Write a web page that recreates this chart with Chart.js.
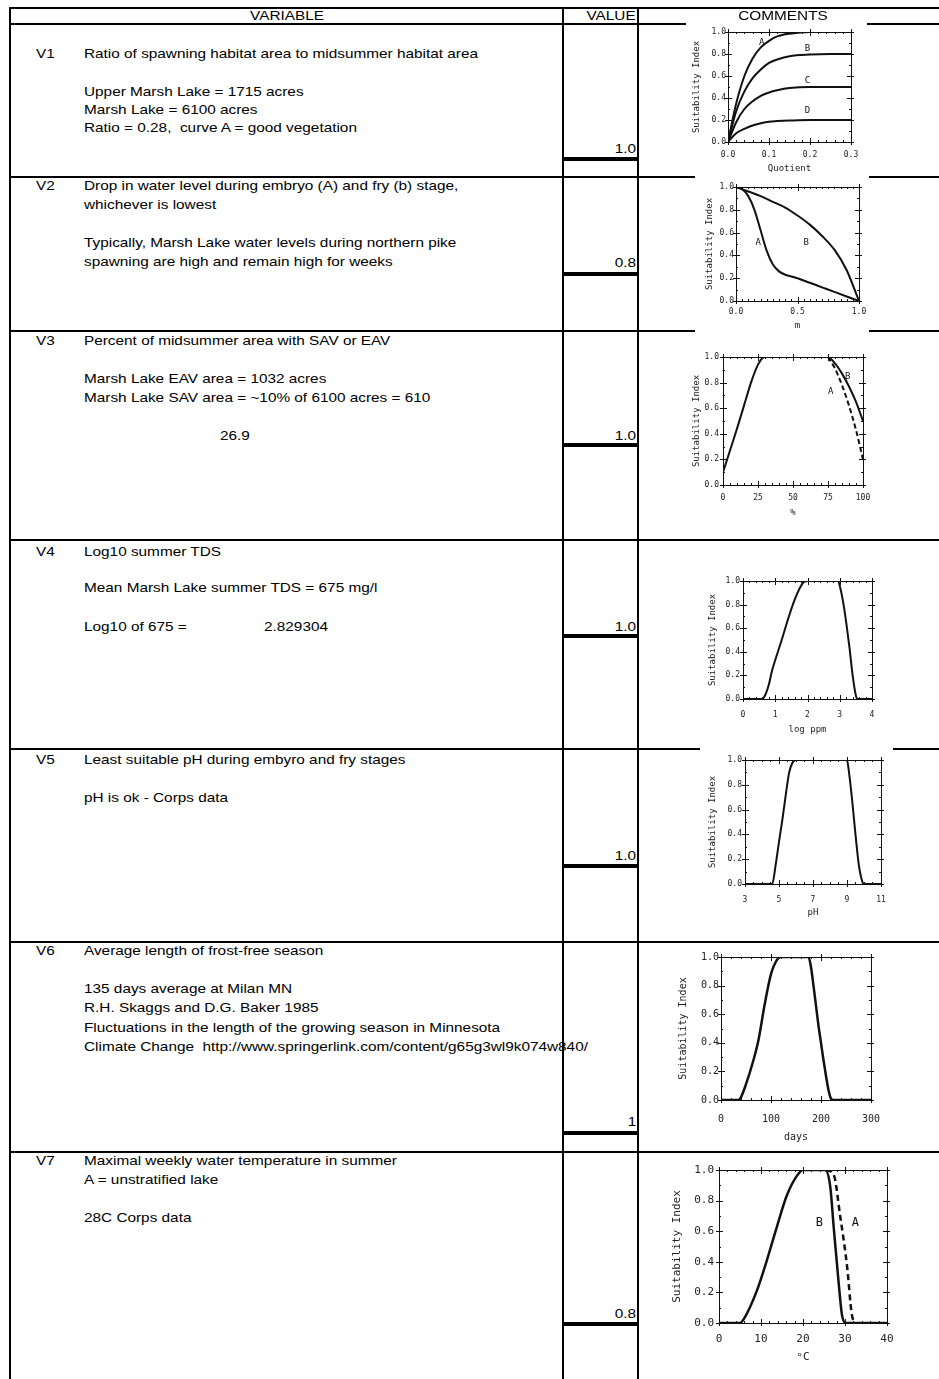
<!DOCTYPE html>
<html>
<head>
<meta charset="utf-8">
<script src="https://cdn.jsdelivr.net/npm/chart.js@4.4.0/dist/chart.umd.min.js"></script>
<style>
  body { margin: 0; background: #fff; }
  #page { position: relative; width: 939px; height: 1379px; overflow: hidden;
          font-family: "Liberation Sans", Arial, sans-serif; font-size: 13px; color: #000; }
  .hl { position: absolute; background: #000; z-index: 1; }
  .vl { position: absolute; background: #000; z-index: 1; }
  .img { position: absolute; background: #fff; z-index: 2; }
  .t { position: absolute; white-space: pre; line-height: 16px; z-index: 4;
       transform: scaleX(1.18); transform-origin: left center; }
  .t.r { transform-origin: right center; }
  .t.c { transform: translateX(-50%) scaleX(1.18); transform-origin: center center; }
  canvas { position: absolute; z-index: 3; }
</style>
</head>
<body>
<div id="page"></div>
<script>
// ---- curve data ----
// V1 ratio of spawning to midsummer habitat (quotient)
const v1X = [0, 0.02, 0.04, 0.06, 0.08, 0.10, 0.12, 0.15, 0.20, 0.25, 0.30];
const v1A = [0, 0.35, 0.60, 0.76, 0.86, 0.92, 0.96, 0.985, 1.0, 1.0, 1.0];
const v1B = [0, 0.28, 0.46, 0.58, 0.66, 0.72, 0.75, 0.78, 0.795, 0.8, 0.8];
const v1C = [0, 0.18, 0.30, 0.37, 0.42, 0.45, 0.47, 0.49, 0.50, 0.5, 0.5];
const v1D = [0, 0.08, 0.12, 0.15, 0.17, 0.185, 0.19, 0.195, 0.2, 0.2, 0.2];

// V2 drop in water level (m)
const v2AX = [0, 0.05, 0.1, 0.15, 0.2, 0.25, 0.3, 0.35, 0.4, 0.45, 0.5, 0.6, 0.7, 0.8, 0.9, 1.0];
const v2A = [1.0, 0.98, 0.92, 0.80, 0.62, 0.44, 0.32, 0.26, 0.23, 0.215, 0.2, 0.16, 0.12, 0.08, 0.04, 0];
const v2BX = [0, 0.1, 0.2, 0.3, 0.4, 0.5, 0.6, 0.7, 0.8, 0.9, 1.0];
const v2B = [1.0, 0.96, 0.92, 0.87, 0.82, 0.75, 0.67, 0.57, 0.45, 0.27, 0];

// V3 percent of midsummer area with vegetation
const v3BX = [0, 5, 10, 15, 20, 25, 28, 30, 50, 75, 80, 85, 90, 95, 100];
const v3B = [0.1, 0.27, 0.44, 0.62, 0.8, 0.94, 0.99, 1, 1, 1, 0.95, 0.87, 0.77, 0.65, 0.5];
const v3AX = [75, 80, 85, 90, 95, 100];
const v3A = [1.0, 0.91, 0.78, 0.62, 0.43, 0.2];

// V4 log10 summer TDS (log ppm)
const v4X = [0, 0.5, 0.6, 0.7, 0.8, 0.9, 1.0, 1.2, 1.4, 1.6, 1.8, 1.9, 2.0, 2.5, 2.95, 3.0, 3.1, 3.2, 3.3, 3.4, 3.5, 3.55, 4.0];
const v4Y = [0, 0, 0, 0.04, 0.12, 0.24, 0.33, 0.50, 0.68, 0.84, 0.96, 0.995, 1, 1, 1, 0.96, 0.83, 0.65, 0.44, 0.2, 0.03, 0, 0];

// V5 least suitable pH
const v5X = [3, 4.6, 4.8, 5.0, 5.2, 5.4, 5.6, 5.8, 6.0, 9.0, 9.1, 9.3, 9.5, 9.7, 9.9, 10.0, 11];
const v5Y = [0, 0, 0.15, 0.34, 0.52, 0.72, 0.9, 0.98, 1, 1, 0.92, 0.68, 0.4, 0.15, 0.02, 0, 0];

// V6 frost-free season (days)
const v6X = [0, 35, 40, 49, 65, 75, 88, 100, 112, 120, 175, 180, 185, 190, 195, 200, 205, 210, 215, 220, 225, 300];
const v6Y = [0, 0, 0.02, 0.1, 0.28, 0.42, 0.68, 0.88, 0.98, 1, 1, 0.93, 0.8, 0.66, 0.52, 0.4, 0.28, 0.17, 0.07, 0.01, 0, 0];

// V7 maximal weekly water temperature (oC)
const v7BX = [0, 5, 6, 9, 11.4, 13.8, 16.1, 18.5, 20, 25.3, 26.5, 27.3, 28.5, 29.3, 30.2, 40];
const v7B = [0, 0, 0.03, 0.21, 0.41, 0.63, 0.83, 0.96, 1, 1, 0.89, 0.63, 0.26, 0.05, 0, 0];
const v7AX = [25.5, 27.3, 28.9, 30.5, 31.6, 32.3];
const v7A = [1, 0.97, 0.69, 0.37, 0.06, 0];

const values = ['1.0', '0.8', '1.0', '1.0', '1.0', '1', '0.8'];

const page = document.getElementById('page');

function box(cls, x, y, w, h) {
  const d = document.createElement('div');
  d.className = cls;
  Object.assign(d.style, { left: x + 'px', top: y + 'px', width: w + 'px', height: h + 'px' });
  page.appendChild(d);
  return d;
}
function text(str, x, y, align) {
  const d = document.createElement('div');
  d.className = 't' + (align ? ' ' + align : '');
  d.textContent = str;
  d.style.top = (y - 8) + 'px';
  if (align === 'r') d.style.right = (939 - x) + 'px';
  else d.style.left = x + 'px';
  page.appendChild(d);
  return d;
}

// ---- table grid ----
const rowLines = [8, 24, 177, 331, 540, 749, 942, 1152];
rowLines.forEach(y => box('hl', 10, y - 1, 929, 2));
[10, 563, 638].forEach(x => box('vl', x - 1, 7, 2, 1372));
// thick rule under each value
[159, 274, 445, 636, 866, 1133, 1324].forEach(y => box('hl', 563, y - 2, 76, 4));

// white backgrounds of the pasted figures (they hide parts of the rules)
box('img', 686, 21, 181, 155);
box('img', 695, 175, 174, 158);
box('img', 695, 329, 174, 190);
box('img', 700, 747, 193, 180);

// ---- texts ----
text('VARIABLE', 287, 16, 'c');
text('VALUE', 636, 16, 'r');
text('COMMENTS', 783, 16, 'c');

const lines = [
  [36, 54, 'V1'], [84, 54, 'Ratio of spawning habitat area to midsummer habitat area'],
  [84, 92, 'Upper Marsh Lake = 1715 acres'], [84, 110, 'Marsh Lake = 6100 acres'],
  [84, 128, 'Ratio = 0.28,  curve A = good vegetation'],
  [36, 186, 'V2'], [84, 186, 'Drop in water level during embryo (A) and fry (b) stage,'],
  [84, 205, 'whichever is lowest'],
  [84, 243, 'Typically, Marsh Lake water levels during northern pike'],
  [84, 262, 'spawning are high and remain high for weeks'],
  [36, 341, 'V3'], [84, 341, 'Percent of midsummer area with SAV or EAV'],
  [84, 379, 'Marsh Lake EAV area = 1032 acres'],
  [84, 398, 'Marsh Lake SAV area = ~10% of 6100 acres = 610'],
  [220, 436, '26.9'],
  [36, 552, 'V4'], [84, 552, 'Log10 summer TDS'],
  [84, 588, 'Mean Marsh Lake summer TDS = 675 mg/l'],
  [84, 627, 'Log10 of 675 ='], [264, 627, '2.829304'],
  [36, 760, 'V5'], [84, 760, 'Least suitable pH during embyro and fry stages'],
  [84, 798, 'pH is ok - Corps data'],
  [36, 951, 'V6'], [84, 951, 'Average length of frost-free season'],
  [84, 989, '135 days average at Milan MN'], [84, 1008, 'R.H. Skaggs and D.G. Baker 1985'],
  [84, 1028, 'Fluctuations in the length of the growing season in Minnesota'],
  [84, 1047, 'Climate Change  http://www.springerlink.com/content/g65g3wl9k074w840/'],
  [36, 1161, 'V7'], [84, 1161, 'Maximal weekly water temperature in summer'],
  [84, 1180, 'A = unstratified lake'], [84, 1218, '28C Corps data']
];
lines.forEach(([x, y, s]) => text(s, x, y));
[149, 263, 436, 627, 856, 1122, 1314].forEach((y, i) => text(values[i], 636, y, 'r'));

// ---- charts ----
const pts = (xs, ys) => xs.map((x, i) => ({ x: x, y: ys[i] }));

// frame, inward minor ticks and curve letters
const framePlugin = {
  id: 'frame',
  afterDatasetsDraw(chart, args, o) {
    const { ctx, chartArea: a, scales: { x, y } } = chart;
    ctx.save();
    ctx.strokeStyle = '#111';
    ctx.lineWidth = 1;
    ctx.strokeRect(a.left + 0.5, a.top + 0.5, a.right - a.left, a.bottom - a.top);
    ctx.beginPath();
    const n = Math.round((o.xMax - o.xMin) / o.xMinor);
    for (let i = 0; i <= n; i++) {
      const v = o.xMin + i * o.xMinor;
      const q = (v - o.xMin) / o.xStep;
      const major = Math.abs(q - Math.round(q)) < 1e-6;
      const px = Math.round(x.getPixelForValue(v)) + 0.5;
      const len = major ? 4 : 2;
      ctx.moveTo(px, a.bottom + (major ? 3 : 0)); ctx.lineTo(px, a.bottom - len);
      ctx.moveTo(px, a.top - (major ? 3 : 0)); ctx.lineTo(px, a.top + len);
    }
    for (let i = 0; i <= 10; i++) {
      const v = i / 10;
      const major = i % 2 === 0;
      const py = Math.round(y.getPixelForValue(v)) + 0.5;
      const len = major ? 4 : 2;
      ctx.moveTo(a.left - (major ? 3 : 0), py); ctx.lineTo(a.left + len, py);
      ctx.moveTo(a.right + (major ? 3 : 0), py); ctx.lineTo(a.right - len, py);
    }
    ctx.stroke();
    ctx.fillStyle = '#111';
    ctx.font = o.labelFont;
    ctx.textAlign = 'center';
    ctx.textBaseline = 'middle';
    (o.labels || []).forEach(([s, vx, vy]) => ctx.fillText(s, x.getPixelForValue(vx), y.getPixelForValue(vy)));
    ctx.restore();
  }
};

const specs = [
  { plot: [728, 32, 851, 142], yT: 697, yL: 726, xL: 155, xT: 169, fs: 8, tfs: 9, lw: 2,
    x: [0, 0.3, 0.1, 0.02, 1], xTitle: 'Quotient',
    series: [[v1X, v1A], [v1X, v1B], [v1X, v1C], [v1X, v1D]],
    labels: [['A', 0.082, 0.9], ['B', 0.194, 0.85], ['C', 0.194, 0.555], ['D', 0.194, 0.285]] },
  { plot: [736, 187, 859, 301], yT: 710, yL: 734, xL: 312, xT: 326, fs: 8, tfs: 9, lw: 2,
    x: [0, 1, 0.5, 0.05, 1], xTitle: 'm',
    series: [[v2AX, v2A], [v2BX, v2B]],
    labels: [['A', 0.18, 0.51], ['B', 0.57, 0.51]] },
  { plot: [723, 357, 863, 485], yT: 697, yL: 719, xL: 498, xT: 513, fs: 8, tfs: 9, lw: 2,
    x: [0, 100, 25, 5, 0], xTitle: '%',
    series: [[v3BX, v3B], [v3AX, v3A, [5, 3]]],
    labels: [['B', 89, 0.85], ['A', 77, 0.73]] },
  { plot: [743, 581, 872, 699], yT: 713, yL: 740, xL: 715, xT: 730, fs: 8, tfs: 9, lw: 2,
    x: [0, 4, 1, 0.2, 0], xTitle: 'log ppm',
    series: [[v4X, v4Y]], labels: [] },
  { plot: [745, 760, 881, 884], yT: 713, yL: 742, xL: 900, xT: 913, fs: 8, tfs: 9, lw: 2,
    x: [3, 11, 2, 0.5, 0], xTitle: 'pH',
    series: [[v5X, v5Y]], labels: [] },
  { plot: [721, 957, 877, 1100], yT: 683, yL: 719, xL: 1119, xT: 1137, fs: 10, tfs: 10, lw: 2.5,
    x: [0, 300, 100, 20, 0], xTitle: 'days',
    series: [[v6X, v6Y]], labels: [] },
  { plot: [719, 1170, 887, 1323], yT: 677, yL: 714, xL: 1339, xT: 1357, fs: 11, tfs: 11, lw: 2.5,
    x: [0, 40, 10, 2, 0], xTitle: 'ᵒC',
    series: [[v7BX, v7B], [v7AX, v7A, [6, 4]]],
    labels: [['B', 23.9, 0.655], ['A', 32.5, 0.655]] }
];

specs.forEach(s => {
  const [l, t, r, b] = s.plot;
  const lh = s.fs * 1.2, tlh = s.tfs * 1.2;
  const cl = Math.round(s.yT - tlh / 2 - 2);
  const ct = t - 12;
  const cr = r + 16;
  const cb = Math.round(s.xT + tlh / 2 + 3);
  const [xMin, xMax, xStep, xMinor, dec] = s.x;

  const cv = document.createElement('canvas');
  cv.width = cr - cl;
  cv.height = cb - ct;
  cv.style.left = cl + 'px';
  cv.style.top = ct + 'px';
  page.appendChild(cv);

  new Chart(cv.getContext('2d'), {
    type: 'line',
    data: {
      datasets: s.series.map(([xs, ys, dash]) => ({
        data: pts(xs, ys),
        borderColor: '#111',
        borderWidth: s.lw,
        borderDash: dash || [],
        pointRadius: 0,
        fill: false,
        cubicInterpolationMode: 'monotone'
      }))
    },
    options: {
      responsive: false,
      animation: false,
      events: [],
      layout: { padding: { left: 0, top: t - ct, right: cr - r, bottom: 0 } },
      plugins: {
        legend: { display: false },
        tooltip: { enabled: false },
        frame: { xMin, xMax, xStep, xMinor, labels: s.labels,
                 labelFont: (s.fs + 1) + 'px "DejaVu Sans Mono"' }
      },
      scales: {
        x: {
          type: 'linear', min: xMin, max: xMax,
          grid: { display: false, drawTicks: false },
          border: { display: false },
          ticks: { stepSize: xStep, autoSkip: false, maxRotation: 0, color: '#222',
                   padding: s.xL - b - lh / 2,
                   font: { family: 'DejaVu Sans Mono', size: s.fs },
                   callback: v => Number(v).toFixed(dec) },
          title: { display: true, text: s.xTitle, color: '#222',
                   font: { family: 'DejaVu Sans Mono', size: s.tfs },
                   padding: { top: 0, bottom: cb - s.xT - tlh / 2 } },
          afterFit: sc => { sc.height = cb - b; }
        },
        y: {
          type: 'linear', min: 0, max: 1,
          grid: { display: false, drawTicks: false },
          border: { display: false },
          ticks: { stepSize: 0.2, color: '#222', padding: l - s.yL,
                   font: { family: 'DejaVu Sans Mono', size: s.fs },
                   callback: v => Number(v).toFixed(1) },
          title: { display: true, text: 'Suitability Index', color: '#222',
                   font: { family: 'DejaVu Sans Mono', size: s.tfs },
                   padding: { top: s.yT - cl - tlh / 2, bottom: 0 } },
          afterFit: sc => { sc.width = l - cl; }
        }
      }
    },
    plugins: [framePlugin]
  });
});
</script>
</body>
</html>
